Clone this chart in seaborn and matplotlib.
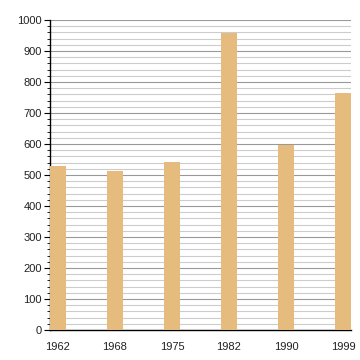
import matplotlib
matplotlib.use("Agg")
import matplotlib.pyplot as plt
import seaborn as sns
import pandas as pd
from matplotlib.ticker import MultipleLocator

years = ["1962", "1968", "1975", "1982", "1990", "1999"]
values = [529, 513, 542, 957, 597, 765]

sns.set_theme(style="white")
plt.rcParams['font.family'] = ['Liberation Sans', 'DejaVu Sans']

df = pd.DataFrame({"year": years, "value": values})

fig = plt.figure(figsize=(3.6, 3.6), dpi=100)
ax = fig.add_axes([50/360, 30/360, 301/360, 310/360])
sns.barplot(data=df, x="year", y="value", color="#E6BB7E", width=0.28,
            saturation=1, linewidth=0, ax=ax, zorder=3)
ax.set_xlim(-0.14, 5.14)
ax.set_ylim(0, 1000)
ax.yaxis.set_major_locator(MultipleLocator(100))
ax.yaxis.set_minor_locator(MultipleLocator(20))
ax.grid(which="major", axis="y", color="#999999", linewidth=0.8, zorder=0)
ax.grid(which="minor", axis="y", color="#cccccc", linewidth=0.8, zorder=0)
ax.set_axisbelow(True)
ax.set_xlabel("")
ax.set_ylabel("")
for s in ["top", "right"]:
    ax.spines[s].set_visible(False)
for s in ["left", "bottom"]:
    ax.spines[s].set_color("black")
    ax.spines[s].set_linewidth(1.0)
ax.tick_params(axis="y", which="major", left=True, length=4, width=0.8,
               color="black", labelsize=8, pad=2, labelcolor="#222222")
ax.tick_params(axis="y", which="minor", left=True, length=2, width=0.6, color="black")
ax.tick_params(axis="x", bottom=False, labelsize=8, pad=3, labelcolor="#222222")
fig.savefig("out.png", dpi=100)
